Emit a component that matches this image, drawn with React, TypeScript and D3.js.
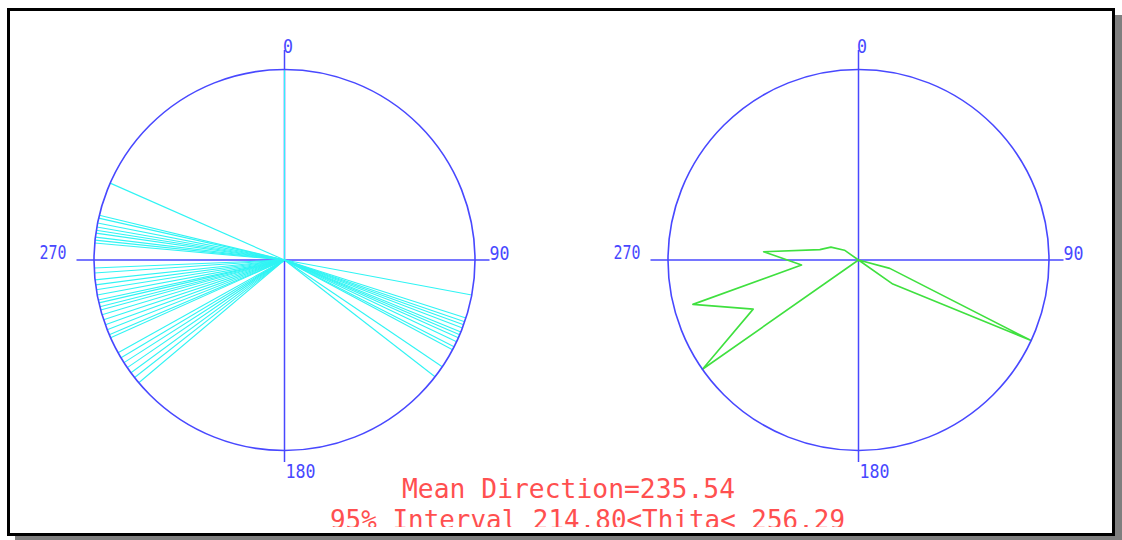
import React from "react";
import * as d3 from "d3";

// Individual observed directions (degrees, compass: 0 = north, clockwise)
const directions: number[] = [
  0,
  100.6, 107.7, 108.9, 109.9, 110.9, 112.2, 113.1, 114.1, 115.4, 117.1, 118.1, 124.1, 127.8,
  229.9, 231.9, 233.7, 235.6, 237.4, 239.1, 240.9, 245.9, 246.9, 248.5, 250.1, 251.7,
  253.3, 254.8, 255.8, 257.0, 257.9, 259.4, 261.0, 262.5, 264.0, 266.1, 267.6,
  275.1, 276.0, 276.9, 278.1, 279.0, 280.0, 281.2, 282.7, 283.6, 293.8,
];

// Rose diagram: bin centres (degrees) and relative frequency (1 = largest bin)
const roseAngles: number[] = [105, 115, 125, 235, 245, 255, 265, 275, 285, 295, 305];
const roseValues: number[] = [0.17, 1.0, 0.22, 1.0, 0.61, 0.9, 0.3, 0.5, 0.21, 0.16, 0.09];

// Compass labels
const compassLabels: string[] = ["0", "90", "180", "270"];

// Summary statistics
const meanDirection = 235.54;
const intervalLow = 214.8;
const intervalHigh = 256.29;

const W = 1122;
const H = 540;
const CY = 260;
const R = 190.5;
const LEFT_CX = 284.5;
const RIGHT_CX = 858.5;

const BLUE = "#4848ff";
const CYAN = "#30f4f4";
const GREEN = "#3fe03f";
const RED = "#ff5050";
const LABEL_FONT = "'DejaVu Sans Mono', monospace";

const angleScale = d3.scaleLinear().domain([0, 360]).range([0, 2 * Math.PI]);
const radiusScale = d3.scaleLinear().domain([0, 1]).range([0, R]);

function Compass({ cx }: { cx: number }) {
  const labelProps = {
    fill: BLUE,
    fontFamily: LABEL_FONT,
    fontSize: 19,
    lengthAdjust: "spacingAndGlyphs" as const,
  };
  return (
    <g>
      <line x1={cx} x2={cx} y1={CY - 210} y2={CY + 202} stroke={BLUE} strokeWidth={1.5} />
      <line x1={cx - 208} x2={cx + 205} y1={CY} y2={CY} stroke={BLUE} strokeWidth={1.5} />
      <text x={cx - 1.5} y={CY - 207} textLength={10} {...labelProps}>
        {compassLabels[0]}
      </text>
      <text x={cx + 205} y={CY} textLength={20} {...labelProps}>
        {compassLabels[1]}
      </text>
      <text x={cx + 1} y={CY + 218} textLength={30} {...labelProps}>
        {compassLabels[2]}
      </text>
      <text x={cx - 218} y={CY - 1} textLength={27} textAnchor="end" {...labelProps}>
        {compassLabels[3]}
      </text>
    </g>
  );
}

function Ring({ cx }: { cx: number }) {
  return <circle cx={cx} cy={CY} r={R} fill="none" stroke={BLUE} strokeWidth={1.6} />;
}

export default function App() {
  // Full 36-bin rose, empty bins collapse to the centre
  const bins = d3.range(5, 360, 10).map((a) => {
    const i = roseAngles.indexOf(a);
    return { angle: a, value: i >= 0 ? roseValues[i] : 0 };
  });
  const rosePath =
    d3
      .lineRadial<{ angle: number; value: number }>()
      .angle((d) => angleScale(d.angle))
      .radius((d) => radiusScale(d.value))
      .curve(d3.curveLinearClosed)(bins) ?? "";

  return (
    <svg
      width={W}
      height={H}
      style={{ position: "absolute", left: 0, top: 0, display: "block" }}
    >
      <defs>
        <clipPath id="inner">
          <rect x={10} y={11} width={1102} height={516} />
        </clipPath>
      </defs>
      {/* drop shadow and frame */}
      <rect x={15} y={15} width={W - 15} height={H - 15} fill="#7f7f7f" />
      <rect x={8.5} y={9.5} width={1105} height={525} fill="#fff" stroke="#000" strokeWidth={3} />

      {/* left: individual directions */}
      <Compass cx={LEFT_CX} />
      <g transform={`translate(${LEFT_CX},${CY})`}>
        {directions.map((deg, i) => {
          const [x, y] = d3.pointRadial(angleScale(deg), R);
          return <line key={i} x1={0} y1={0} x2={x} y2={y} stroke={CYAN} strokeWidth={1.1} />;
        })}
      </g>
      <Ring cx={LEFT_CX} />

      {/* right: rose diagram */}
      <Compass cx={RIGHT_CX} />
      <g transform={`translate(${RIGHT_CX},${CY})`}>
        <path d={rosePath} fill="none" stroke={GREEN} strokeWidth={1.6} strokeLinejoin="round" />
      </g>
      <Ring cx={RIGHT_CX} />

      {/* statistics */}
      <g clipPath="url(#inner)" fill={RED} fontFamily={LABEL_FONT} fontSize={27}>
        <text x={402} y={498} textLength={333} lengthAdjust="spacingAndGlyphs">
          {`Mean Direction=${meanDirection.toFixed(2)}`}
        </text>
        <text x={330} y={529} textLength={515} lengthAdjust="spacingAndGlyphs">
          {`95% Interval ${intervalLow.toFixed(2)}<Thita< ${intervalHigh.toFixed(2)}`}
        </text>
      </g>
    </svg>
  );
}
